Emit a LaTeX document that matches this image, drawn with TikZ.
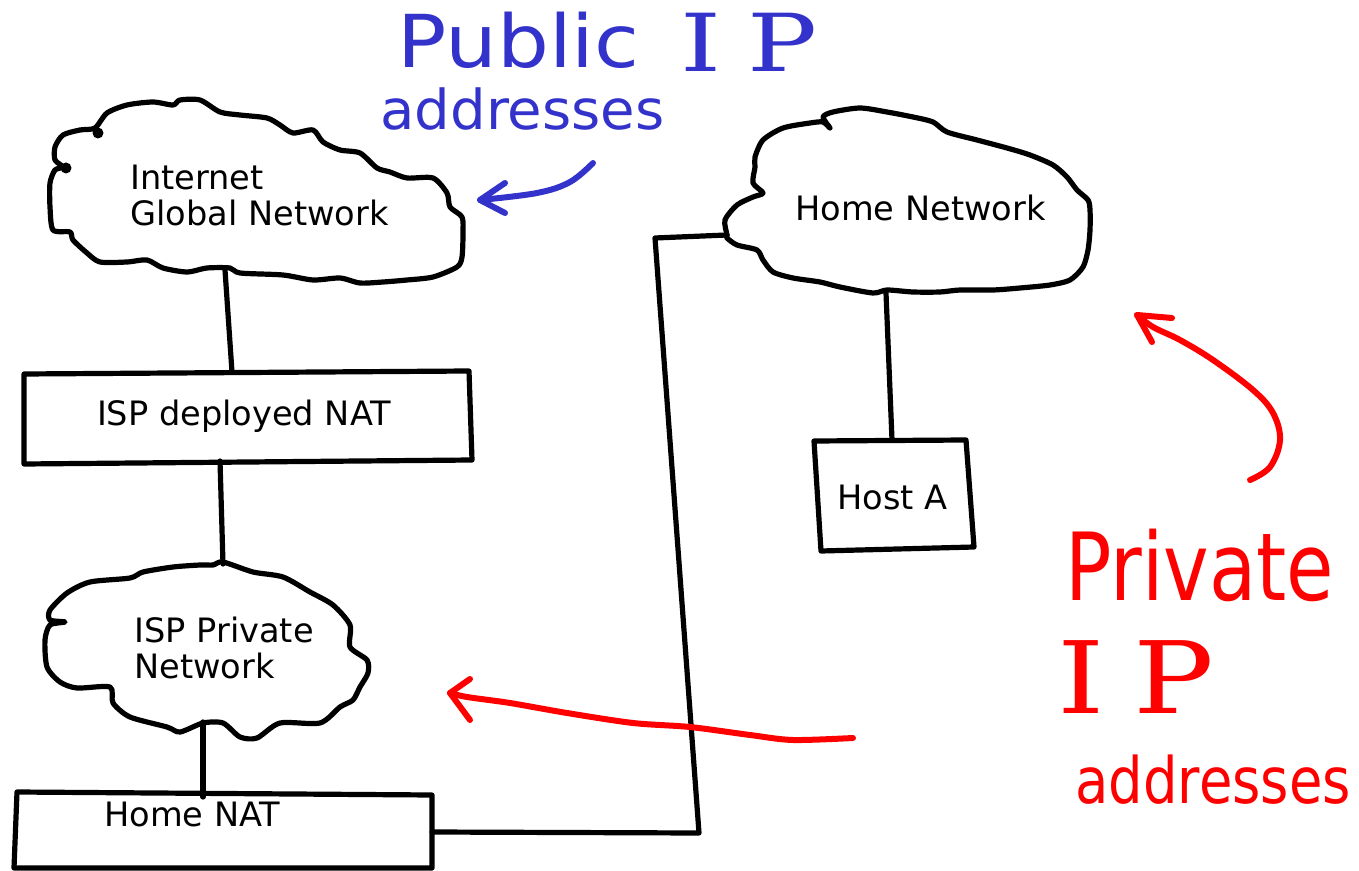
\documentclass[tikz,border=0pt]{standalone}
\usepackage{fontspec}
\setmainfont{DejaVu Sans}
\newfontfamily\handserif{DejaVu Serif}
\definecolor{inkblue}{HTML}{3333CC}
\definecolor{inkred}{HTML}{FF0000}
\begin{document}
\begin{tikzpicture}[x=0.5pt,y=-0.5pt,
  outline/.style={line width=2.6pt, line join=round, line cap=round},
  wire/.style={line width=2.6pt, line cap=round, line join=round},
  lbl/.style={inner sep=0pt, font=\fontsize{16.8}{18}\selectfont},
  bluepen/.style={draw=inkblue, line width=3pt, line cap=round, line join=round},
  redpen/.style={draw=inkred, line width=3pt, line cap=round, line join=round},
  bluehand/.style={text=inkblue, inner sep=0pt, anchor=base west},
  redhand/.style={text=inkred, inner sep=0pt, anchor=base west},
]
\useasboundingbox (0,0) rectangle (1359,871);

% ---------- Internet cloud ----------
\draw[outline] plot[smooth cycle, tension=0.45] coordinates {
 (95,128) (107,113) (127,105) (153,102) (173,105) (180,100) (200,100) (220,112)
 (240,115) (267,118) (280,125) (293,133) (313,130) (323,142) (340,150) (360,153)
 (377,168) (390,172) (407,178) (433,178) (447,193) (450,207) (462,217) (463,233)
 (462,257) (457,267) (433,277) (407,280) (383,282) (360,283) (340,278) (313,280)
 (283,275) (240,273) (230,268) (207,268) (187,272) (163,268) (147,260) (127,262)
 (100,262) (87,253) (73,240) (70,232) (53,230) (50,207) (50,183) (55,170)
 (63,167) (55,160) (55,147) (63,135) (80,130)};
\fill (98,133) circle (5.5);
\fill (66,168) circle (5.5);
\node[lbl, anchor=north west, align=left] (inet) at (130,165) {Internet\\Global Network};
\coordinate (inetB) at (225,270);

% ---------- ISP deployed NAT ----------
\draw[outline] (24,374) -- (469,371) -- (472,460) -- (24,464) -- cycle;
\node[lbl, anchor=base] (ispnat) at (244,425) {ISP deployed NAT};
\coordinate (ispnatT) at (232,372);
\coordinate (ispnatB) at (220,461);

% ---------- ISP private cloud ----------
\draw[outline] plot[smooth cycle, tension=0.45] coordinates {
 (213,565) (223,562) (253,572) (283,577) (310,592) (333,605) (350,625) (350,647)
 (367,660) (368,673) (360,687) (353,700) (340,707) (320,723) (280,723) (257,738)
 (240,737) (223,723) (203,723) (180,732) (167,727) (130,717) (113,703) (110,687)
 (77,688) (60,682) (47,667) (45,640) (50,625) (65,622) (50,620) (50,610)
 (67,593) (90,582) (130,578) (143,572) (173,567) (200,565)};
\node[lbl, anchor=north west, align=left] (isppriv) at (134,617) {ISP Private\\Network};
\coordinate (ispprivT) at (223,564);
\coordinate (ispprivB) at (203,722);

% ---------- Home NAT ----------
\draw[outline] (17,792) -- (432,795) -- (432,868) -- (14,868) -- cycle;
\node[lbl, anchor=base west] (homenat) at (104,826) {Home NAT};
\coordinate (homenatT) at (203,797);
\coordinate (homenatR) at (432,832);

% ---------- Home network cloud ----------
\draw[outline] plot[smooth cycle, tension=0.45] coordinates {
 (727,235) (725,220) (737,205) (753,197) (763,193) (753,183) (755,167) (755,157)
 (763,140) (783,128) (810,123) (823,122) (830,128) (823,117) (833,112) (860,108)
 (887,112) (913,117) (933,122) (947,132) (977,140) (1007,148) (1030,155) (1053,165)
 (1067,177) (1077,190) (1088,200) (1090,210) (1090,230) (1088,250) (1083,267)
 (1070,280) (1050,285) (1020,288) (993,290) (960,290) (940,292) (913,292) (887,290)
 (873,293) (840,287) (820,282) (793,278) (773,272) (763,260) (757,250) (737,245)
 (727,238)};
\node[lbl, anchor=base west] (homenet) at (795,221) {Home Network};
\coordinate (homenetL) at (727,235);
\coordinate (homenetB) at (886,293);

% ---------- Host A ----------
\draw[outline] (814,441) -- (966,440) -- (974,547) -- (821,551) -- cycle;
\node[lbl, anchor=base west] (hosta) at (837,509) {Host A};
\coordinate (hostaT) at (892,440);

% ---------- links ----------
\draw[wire] (inetB) -- (ispnatT);
\draw[wire] (ispnatB) -- (ispprivT);
\draw[wire] (ispprivB) -- (homenatT);
\draw[wire] (homenetB) -- (hostaT);
\coordinate (bendLow) at (699,833);
\coordinate (bendHigh) at (655,238);
\draw[wire] (homenatR) -- (bendLow) -- (bendHigh) -- (homenetL);

% ---------- blue note: public addresses ----------
\node[bluehand, font=\fontsize{36.5}{36}\selectfont, xscale=1.12] (pubA) at (397,68) {Public};
\node[bluehand, font=\fontsize{40}{40}\handserif\selectfont, xscale=1.3] (pubB) at (680,72) {I\hspace{10pt}P};
\node[bluehand, font=\fontsize{27.5}{28}\selectfont, xscale=1.02] (pubC) at (380,130) {addresses};
\coordinate (bArrS) at (593,163);
\coordinate (bArrT) at (480,200);
\draw[bluepen] plot[smooth, tension=0.6] coordinates {(bArrS) (570,182) (537,193) (bArrT)};
\draw[bluepen] (505,183) -- (bArrT) -- (505,213);

% ---------- red note: private addresses ----------
\node[redhand, font=\fontsize{47}{47}\selectfont, xscale=0.82] (privA) at (1065,600) {Private};
\node[redhand, font=\fontsize{50}{50}\handserif\selectfont, xscale=1.2] (privB) at (1057,713) {I\hspace{12pt}P};
\node[redhand, font=\fontsize{32}{32}\selectfont, xscale=0.85] (privC) at (1075,803) {addresses};

\coordinate (rArrS) at (1250,480);
\coordinate (rArrT) at (1137,315);
\draw[redpen] plot[smooth, tension=0.6] coordinates {
 (rArrS) (1270,467) (1280,440) (1273,413) (1253,390) (1213,360) (1180,340) (1153,327) (rArrT)};
\draw[redpen] (1172,318) -- (rArrT) -- (1152,342);

\coordinate (hArrS) at (853,738);
\coordinate (hArrT) at (450,693);
\draw[redpen] plot[smooth, tension=0.5] coordinates {
 (hArrS) (793,740) (750,735) (690,727) (633,723) (567,713) (510,703) (467,697) (hArrT)};
\draw[redpen] (470,679) -- (hArrT) -- (470,720);
\end{tikzpicture}
\end{document}
